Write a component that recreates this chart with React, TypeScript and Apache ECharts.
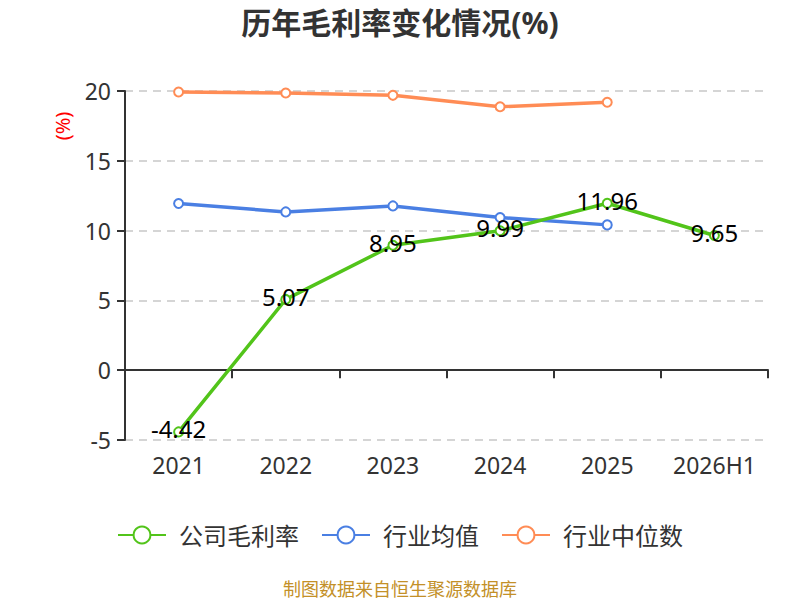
import React, { useEffect, useRef } from "react";
import * as echarts from "echarts";

const categories = ["2021", "2022", "2023", "2024", "2025", "2026H1"];
const companyMargin = [-4.42, 5.07, 8.95, 9.99, 11.96, 9.65];
const industryAvg = [11.94, 11.34, 11.77, 10.94, 10.41];
const industryMedian = [19.93, 19.86, 19.69, 18.87, 19.19];
const yTicks = { min: -5, max: 20, interval: 5 };

const FONT = "'Noto Sans', 'Noto Sans CJK SC', sans-serif";

export default function App() {
  const ref = useRef<HTMLDivElement>(null);
  useEffect(() => {
    document.body.style.margin = "0";
    const chart = echarts.init(ref.current!, null, { renderer: "svg" });
    const sym = {
      symbol: "emptyCircle",
      symbolSize: 9,
      showSymbol: true,
    };
    chart.setOption({
      animation: false,
      textStyle: { fontFamily: FONT },
      title: {
        text: "历年毛利率变化情况(%)",
        left: "center",
        top: 2,
        textStyle: { fontSize: 30, fontWeight: "bold", color: "#333", fontFamily: FONT },
      },
      graphic: [
        {
          type: "text",
          x: 62,
          y: 126,
          rotation: Math.PI / 2,
          style: {
            text: "(%)",
            fill: "#ff0000",
            fontSize: 20,
            fontFamily: FONT,
            textAlign: "center",
            textVerticalAlign: "middle",
          },
        },
        {
          type: "text",
          x: 400,
          y: 589,
          style: {
            text: "制图数据来自恒生聚源数据库",
            fill: "#c39028",
            fontSize: 18,
            fontFamily: FONT,
            textAlign: "center",
            textVerticalAlign: "middle",
          },
        },
      ],
      legend: {
        bottom: 48,
        left: "center",
        itemWidth: 48,
        itemHeight: 21,
        itemGap: 22,
        textStyle: { fontSize: 24, color: "#333", fontFamily: FONT, padding: [0, 0, 0, 8] },
        data: ["公司毛利率", "行业均值", "行业中位数"],
      },
      grid: { left: 125, right: 32, top: 91, bottom: 160 },
      xAxis: [
        {
          type: "category",
          data: categories,
          boundaryGap: true,
          axisLine: { show: true, onZero: true, lineStyle: { color: "#333", width: 2 } },
          axisTick: { show: true, length: 8, lineStyle: { color: "#333", width: 2 } },
          axisLabel: { show: false },
          splitLine: { show: false },
        },
        {
          type: "category",
          data: categories,
          position: "bottom",
          boundaryGap: true,
          axisLine: { show: false, onZero: false },
          axisTick: { show: false },
          axisLabel: { show: true, interval: 0, fontSize: 23, color: "#333", margin: 13, fontFamily: FONT },
          splitLine: { show: false },
        },
      ],
      yAxis: {
        type: "value",
        min: yTicks.min,
        max: yTicks.max,
        interval: yTicks.interval,
        axisLine: { show: true, lineStyle: { color: "#333", width: 2 } },
        axisTick: { show: true, length: 8, lineStyle: { color: "#333", width: 2 } },
        axisLabel: { fontSize: 23, color: "#333", margin: 14, fontFamily: FONT },
        splitLine: { show: true, lineStyle: { type: [8, 6], color: "#c8c8c8", width: 1.5 } },
      },
      series: [
        {
          name: "公司毛利率",
          type: "line",
          data: companyMargin,
          ...sym,
          itemStyle: { color: "#52c41a", borderWidth: 2 },
          lineStyle: { color: "#52c41a", width: 3.5 },
          label: {
            show: true,
            position: "inside",
            offset: [0, -3],
            color: "#000",
            fontSize: 24,
            fontFamily: FONT,
          },
          z: 5,
        },
        {
          name: "行业均值",
          type: "line",
          data: industryAvg,
          ...sym,
          itemStyle: { color: "#4a7fe3", borderWidth: 2 },
          lineStyle: { color: "#4a7fe3", width: 3.5 },
          z: 3,
        },
        {
          name: "行业中位数",
          type: "line",
          data: industryMedian,
          ...sym,
          itemStyle: { color: "#ff8c55", borderWidth: 2 },
          lineStyle: { color: "#ff8c55", width: 3.5 },
          z: 3,
        },
      ],
    });
    return () => chart.dispose();
  }, []);
  return <div ref={ref} style={{ width: 800, height: 600 }} />;
}
